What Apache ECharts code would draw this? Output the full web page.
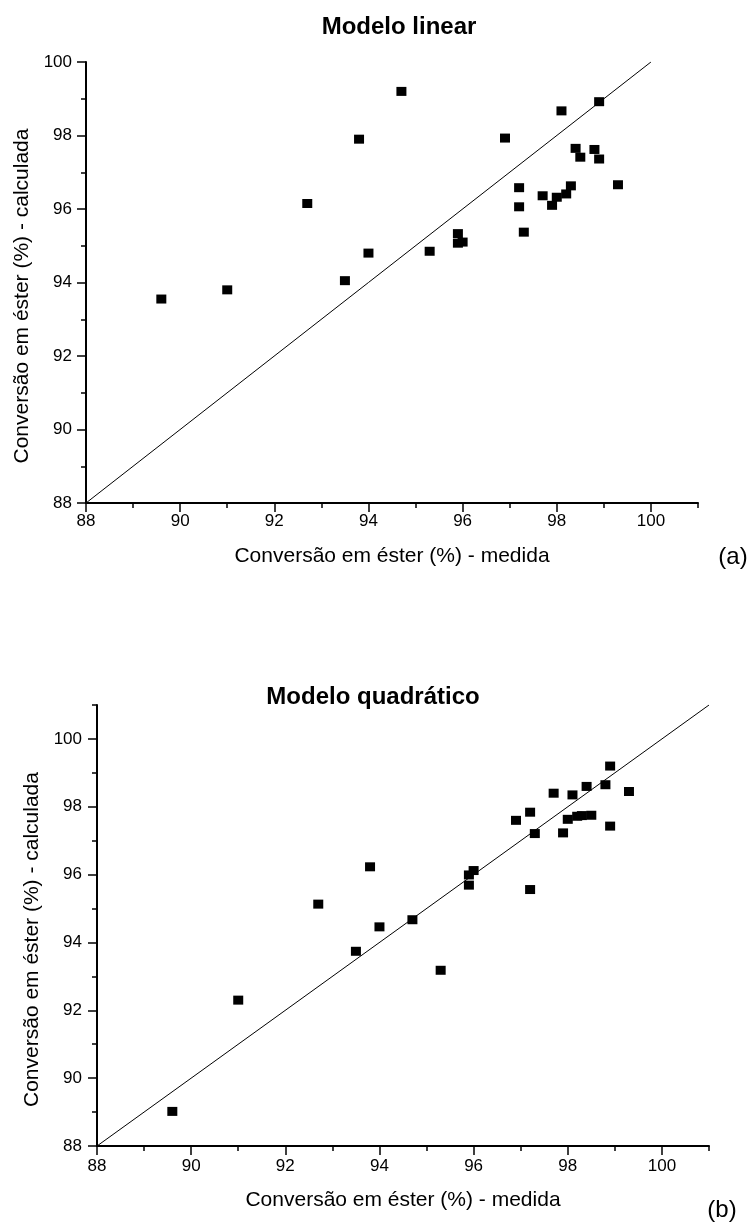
<!DOCTYPE html>
<html>
<head>
<meta charset="utf-8">
<script src="https://cdn.jsdelivr.net/npm/echarts@6/dist/echarts.min.js"></script>
<style>
  html, body { margin: 0; padding: 0; background: #fff; }
  #chart { width: 751px; height: 1226px; }
</style>
</head>
<body>
<div id="chart"></div>
<script>
// measured conversion (%) - same experiments in both panels
const measured = [89.6, 91.0, 92.7, 93.5, 93.8, 94.0, 94.7, 95.3, 95.9, 95.9, 96.0, 96.9, 97.2, 97.2,
  97.3, 97.7, 97.9, 98.0, 98.1, 98.2, 98.3, 98.4, 98.5, 98.8, 98.9, 98.9, 99.3];
// calculated by the linear model
const calcLinear = [93.55, 93.8, 96.15, 94.05, 97.9, 94.8, 99.2, 94.85, 95.33, 95.07, 95.1, 97.93, 96.58, 96.06,
  95.37, 96.36, 96.1, 96.32, 98.67, 96.41, 96.63, 97.65, 97.41, 97.62, 97.36, 98.92, 96.66];
// calculated by the quadratic model
const calcQuadratic = [89.02, 92.3, 95.13, 93.74, 96.23, 94.46, 94.67, 93.18, 95.99, 95.69, 96.12, 97.6, 97.84, 95.56,
  97.21, 98.4, 97.23, 97.63, 98.35, 97.72, 97.74, 98.6, 97.75, 98.65, 99.2, 97.43, 98.45];

const majorTicks = [88, 90, 92, 94, 96, 98, 100];
const diagTop = [[88, 88], [100, 100]];
const diagBottom = [[88, 88], [101, 101]];

const FONT = '"Liberation Sans", Arial, sans-serif';
const xName = 'Conversão em éster (%) - medida';
const yName = 'Conversão em éster (%) - calculada';

// main axis (labels + long ticks) and a second one only for the short ticks
function axisPair(gridIndex, max, position, name, o) {
  const base = { type: 'value', gridIndex, min: 88, max, position, splitLine: { show: false } };
  const main = Object.assign({}, base, {
    interval: 2,
    name,
    nameLocation: 'middle',
    nameGap: o.nameGap,
    nameTextStyle: { fontSize: 21, color: '#000', fontFamily: FONT, padding: o.namePadding || 0 },
    axisLine: { show: true, onZero: false, lineStyle: { color: '#000', width: 2 } },
    axisTick: { show: true, length: 9, customValues: majorTicks, lineStyle: { color: '#000', width: 1.5 } },
    axisLabel: { customValues: majorTicks, margin: o.labelMargin, fontSize: 17, color: '#000', fontFamily: FONT }
  });
  const minor = Object.assign({}, base, {
    interval: 1,
    axisLine: { show: false },
    axisTick: { show: true, length: 5, lineStyle: { color: '#000', width: 1.5 } },
    axisLabel: { show: false }
  });
  return [main, minor];
}

const chart = echarts.init(document.getElementById('chart'));

chart.setOption({
  animation: false,
  backgroundColor: '#fff',
  title: [
    { text: 'Modelo linear', left: 399, top: 15, textAlign: 'center', padding: 0,
      textStyle: { fontSize: 24, fontWeight: 'bold', fontFamily: FONT, color: '#000' } },
    { text: 'Modelo quadrático', left: 373, top: 685, textAlign: 'center', padding: 0,
      textStyle: { fontSize: 24, fontWeight: 'bold', fontFamily: FONT, color: '#000' } }
  ],
  grid: [
    { left: 86, top: 62, width: 612, height: 441 },
    { left: 97, top: 705, width: 612, height: 441 }
  ],
  xAxis: [
    ...axisPair(0, 101, 'bottom', xName, { nameGap: 43, labelMargin: 10 }),
    ...axisPair(1, 101, 'bottom', xName, { nameGap: 44, labelMargin: 12 })
  ],
  yAxis: [
    ...axisPair(0, 100, 'left', yName, { nameGap: 53, labelMargin: 14, namePadding: [0, 27, 0, 0] }),
    ...axisPair(1, 101, 'left', yName, { nameGap: 51, labelMargin: 15, namePadding: [0, 28, 0, 0] })
  ],
  graphic: [
    { type: 'text', x: 733, y: 557, style: { text: '(a)', fontSize: 24, fontFamily: FONT, fill: '#000', align: 'center', verticalAlign: 'middle' } },
    { type: 'text', x: 722, y: 1210, style: { text: '(b)', fontSize: 24, fontFamily: FONT, fill: '#000', align: 'center', verticalAlign: 'middle' } }
  ],
  series: [
    { type: 'line', xAxisIndex: 0, yAxisIndex: 0, data: diagTop, symbol: 'none', silent: true,
      lineStyle: { color: '#000', width: 1 } },
    { type: 'scatter', xAxisIndex: 0, yAxisIndex: 0, symbol: 'rect', symbolSize: [10, 9],
      itemStyle: { color: '#000', opacity: 1 },
      data: measured.map((m, i) => [m, calcLinear[i]]) },
    { type: 'line', xAxisIndex: 2, yAxisIndex: 2, data: diagBottom, symbol: 'none', silent: true,
      lineStyle: { color: '#000', width: 1 } },
    { type: 'scatter', xAxisIndex: 2, yAxisIndex: 2, symbol: 'rect', symbolSize: [10, 9],
      itemStyle: { color: '#000', opacity: 1 },
      data: measured.map((m, i) => [m, calcQuadratic[i]]) }
  ]
});
</script>
</body>
</html>
